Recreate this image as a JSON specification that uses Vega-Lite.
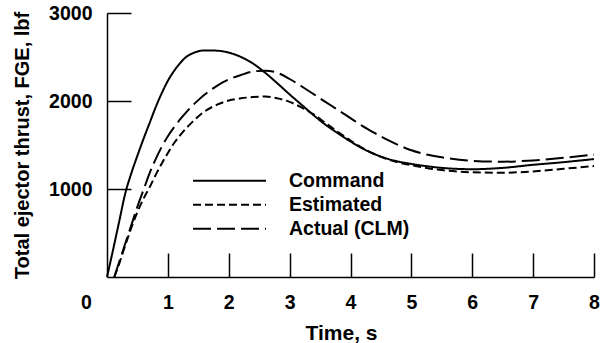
{
  "$schema": "https://vega.github.io/schema/vega-lite/v6.json",
  "autosize": "none",
  "padding": {"left": 107, "top": 13, "right": 22, "bottom": 66},
  "width": 487,
  "height": 264,
  "background": "white",
  "config": {
    "view": {"stroke": null},
    "font": "Liberation Sans",
    "axis": {
      "labelFont": "Liberation Sans",
      "labelFontWeight": "bold",
      "labelFontSize": 19.5,
      "labelColor": "black",
      "titleFont": "Liberation Sans",
      "titleFontWeight": "bold",
      "titleColor": "black",
      "domainColor": "black",
      "domainWidth": 1.5,
      "tickColor": "black",
      "tickWidth": 1.5,
      "grid": false
    }
  },
  "data": {
    "values": [
      {"t": 0, "v": 0, "series": "Command"},
      {"t": 0.1, "v": 310, "series": "Command"},
      {"t": 0.2, "v": 630, "series": "Command"},
      {"t": 0.3, "v": 950, "series": "Command"},
      {"t": 0.4, "v": 1180, "series": "Command"},
      {"t": 0.5, "v": 1380, "series": "Command"},
      {"t": 0.6, "v": 1570, "series": "Command"},
      {"t": 0.7, "v": 1750, "series": "Command"},
      {"t": 0.8, "v": 1930, "series": "Command"},
      {"t": 0.9, "v": 2090, "series": "Command"},
      {"t": 1.0, "v": 2230, "series": "Command"},
      {"t": 1.1, "v": 2340, "series": "Command"},
      {"t": 1.2, "v": 2430, "series": "Command"},
      {"t": 1.3, "v": 2500, "series": "Command"},
      {"t": 1.4, "v": 2540, "series": "Command"},
      {"t": 1.5, "v": 2565, "series": "Command"},
      {"t": 1.6, "v": 2575, "series": "Command"},
      {"t": 1.8, "v": 2572, "series": "Command"},
      {"t": 2.0, "v": 2550, "series": "Command"},
      {"t": 2.2, "v": 2500, "series": "Command"},
      {"t": 2.4, "v": 2425, "series": "Command"},
      {"t": 2.6, "v": 2320, "series": "Command"},
      {"t": 2.8, "v": 2200, "series": "Command"},
      {"t": 3.0, "v": 2075, "series": "Command"},
      {"t": 3.2, "v": 1955, "series": "Command"},
      {"t": 3.4, "v": 1835, "series": "Command"},
      {"t": 3.6, "v": 1725, "series": "Command"},
      {"t": 3.8, "v": 1630, "series": "Command"},
      {"t": 4.0, "v": 1540, "series": "Command"},
      {"t": 4.2, "v": 1460, "series": "Command"},
      {"t": 4.4, "v": 1395, "series": "Command"},
      {"t": 4.6, "v": 1345, "series": "Command"},
      {"t": 4.8, "v": 1310, "series": "Command"},
      {"t": 5.0, "v": 1285, "series": "Command"},
      {"t": 5.5, "v": 1240, "series": "Command"},
      {"t": 6.0, "v": 1225, "series": "Command"},
      {"t": 6.5, "v": 1240, "series": "Command"},
      {"t": 7.0, "v": 1275, "series": "Command"},
      {"t": 7.5, "v": 1305, "series": "Command"},
      {"t": 8.0, "v": 1340, "series": "Command"},

      {"t": 0.12, "v": 0, "series": "Estimated"},
      {"t": 0.2, "v": 150, "series": "Estimated"},
      {"t": 0.3, "v": 360, "series": "Estimated"},
      {"t": 0.4, "v": 560, "series": "Estimated"},
      {"t": 0.5, "v": 740, "series": "Estimated"},
      {"t": 0.6, "v": 890, "series": "Estimated"},
      {"t": 0.7, "v": 1020, "series": "Estimated"},
      {"t": 0.8, "v": 1160, "series": "Estimated"},
      {"t": 0.9, "v": 1290, "series": "Estimated"},
      {"t": 1.0, "v": 1410, "series": "Estimated"},
      {"t": 1.1, "v": 1520, "series": "Estimated"},
      {"t": 1.2, "v": 1610, "series": "Estimated"},
      {"t": 1.3, "v": 1690, "series": "Estimated"},
      {"t": 1.4, "v": 1760, "series": "Estimated"},
      {"t": 1.5, "v": 1825, "series": "Estimated"},
      {"t": 1.6, "v": 1880, "series": "Estimated"},
      {"t": 1.8, "v": 1955, "series": "Estimated"},
      {"t": 2.0, "v": 2005, "series": "Estimated"},
      {"t": 2.2, "v": 2030, "series": "Estimated"},
      {"t": 2.4, "v": 2045, "series": "Estimated"},
      {"t": 2.6, "v": 2050, "series": "Estimated"},
      {"t": 2.8, "v": 2030, "series": "Estimated"},
      {"t": 3.0, "v": 1990, "series": "Estimated"},
      {"t": 3.2, "v": 1925, "series": "Estimated"},
      {"t": 3.4, "v": 1845, "series": "Estimated"},
      {"t": 3.6, "v": 1745, "series": "Estimated"},
      {"t": 3.8, "v": 1645, "series": "Estimated"},
      {"t": 4.0, "v": 1550, "series": "Estimated"},
      {"t": 4.2, "v": 1465, "series": "Estimated"},
      {"t": 4.4, "v": 1395, "series": "Estimated"},
      {"t": 4.6, "v": 1340, "series": "Estimated"},
      {"t": 4.8, "v": 1300, "series": "Estimated"},
      {"t": 5.0, "v": 1270, "series": "Estimated"},
      {"t": 5.2, "v": 1245, "series": "Estimated"},
      {"t": 5.5, "v": 1215, "series": "Estimated"},
      {"t": 6.0, "v": 1190, "series": "Estimated"},
      {"t": 6.5, "v": 1185, "series": "Estimated"},
      {"t": 7.0, "v": 1200, "series": "Estimated"},
      {"t": 7.5, "v": 1230, "series": "Estimated"},
      {"t": 8.0, "v": 1260, "series": "Estimated"},

      {"t": 0.12, "v": 0, "series": "Actual (CLM)"},
      {"t": 0.2, "v": 170, "series": "Actual (CLM)"},
      {"t": 0.3, "v": 380, "series": "Actual (CLM)"},
      {"t": 0.4, "v": 590, "series": "Actual (CLM)"},
      {"t": 0.5, "v": 800, "series": "Actual (CLM)"},
      {"t": 0.6, "v": 990, "series": "Actual (CLM)"},
      {"t": 0.7, "v": 1180, "series": "Actual (CLM)"},
      {"t": 0.8, "v": 1340, "series": "Actual (CLM)"},
      {"t": 0.9, "v": 1480, "series": "Actual (CLM)"},
      {"t": 1.0, "v": 1600, "series": "Actual (CLM)"},
      {"t": 1.1, "v": 1700, "series": "Actual (CLM)"},
      {"t": 1.2, "v": 1790, "series": "Actual (CLM)"},
      {"t": 1.3, "v": 1870, "series": "Actual (CLM)"},
      {"t": 1.4, "v": 1945, "series": "Actual (CLM)"},
      {"t": 1.5, "v": 2010, "series": "Actual (CLM)"},
      {"t": 1.6, "v": 2070, "series": "Actual (CLM)"},
      {"t": 1.8, "v": 2170, "series": "Actual (CLM)"},
      {"t": 2.0, "v": 2245, "series": "Actual (CLM)"},
      {"t": 2.2, "v": 2295, "series": "Actual (CLM)"},
      {"t": 2.4, "v": 2335, "series": "Actual (CLM)"},
      {"t": 2.6, "v": 2345, "series": "Actual (CLM)"},
      {"t": 2.8, "v": 2320, "series": "Actual (CLM)"},
      {"t": 3.0, "v": 2250, "series": "Actual (CLM)"},
      {"t": 3.2, "v": 2165, "series": "Actual (CLM)"},
      {"t": 3.4, "v": 2075, "series": "Actual (CLM)"},
      {"t": 3.6, "v": 1985, "series": "Actual (CLM)"},
      {"t": 3.8, "v": 1895, "series": "Actual (CLM)"},
      {"t": 4.0, "v": 1805, "series": "Actual (CLM)"},
      {"t": 4.2, "v": 1715, "series": "Actual (CLM)"},
      {"t": 4.4, "v": 1635, "series": "Actual (CLM)"},
      {"t": 4.6, "v": 1560, "series": "Actual (CLM)"},
      {"t": 4.8, "v": 1495, "series": "Actual (CLM)"},
      {"t": 5.0, "v": 1440, "series": "Actual (CLM)"},
      {"t": 5.2, "v": 1400, "series": "Actual (CLM)"},
      {"t": 5.5, "v": 1360, "series": "Actual (CLM)"},
      {"t": 6.0, "v": 1320, "series": "Actual (CLM)"},
      {"t": 6.5, "v": 1310, "series": "Actual (CLM)"},
      {"t": 7.0, "v": 1325, "series": "Actual (CLM)"},
      {"t": 7.5, "v": 1355, "series": "Actual (CLM)"},
      {"t": 8.0, "v": 1390, "series": "Actual (CLM)"}
    ]
  },
  "mark": {"type": "line", "strokeWidth": 2, "interpolate": "monotone"},
  "encoding": {
    "x": {
      "field": "t",
      "type": "quantitative",
      "scale": {"domain": [0, 8], "nice": false, "zero": true},
      "axis": {
        "values": [0, 1, 2, 3, 4, 5, 6, 7, 8],
        "format": "d",
        "title": "Time, s",
        "titleFontSize": 21,
        "tickSize": -24,
        "tickOpacity": {"condition": {"test": "datum.value === 0", "value": 0}, "value": 1},
        "labelOffset": {"condition": {"test": "datum.value === 0", "value": -21}, "value": 0},
        "labelPadding": 40,
        "labelFlush": false,
        "labelBound": false,
        "labelOverlap": false,
        "titleX": 234,
        "titleY": 56,
        "titleAlign": "center",
        "titleBaseline": "middle"
      }
    },
    "y": {
      "field": "v",
      "type": "quantitative",
      "scale": {"domain": [0, 3000], "nice": false},
      "axis": {
        "values": [1000, 2000, 3000],
        "format": "d",
        "title": "Total ejector thrust, FGE, lbf",
        "titleFontSize": 20,
        "tickSize": -24,
        "labelPadding": 39,
        "labelOverlap": false,
        "titleX": -85,
        "titleY": 132,
        "titleAlign": "center",
        "titleBaseline": "middle",
        "titleAngle": -90
      }
    },
    "color": {
      "field": "series",
      "type": "nominal",
      "scale": {"domain": ["Command", "Estimated", "Actual (CLM)"], "range": ["black", "black", "black"]},
      "legend": {
        "orient": "none",
        "legendX": 85,
        "legendY": 157,
        "title": null,
        "padding": 0,
        "symbolType": "stroke",
        "symbolSize": 5329,
        "symbolStrokeWidth": 2,
        "clipHeight": 21.5,
        "rowPadding": 2,
        "labelOffset": 22,
        "labelFont": "Liberation Sans",
        "labelFontWeight": "bold",
        "labelFontSize": 19.5,
        "labelColor": "black"
      }
    },
    "strokeDash": {
      "field": "series",
      "type": "nominal",
      "scale": {"domain": ["Command", "Estimated", "Actual (CLM)"], "range": [[1, 0], [8, 4], [18, 6]]}
    }
  }
}
